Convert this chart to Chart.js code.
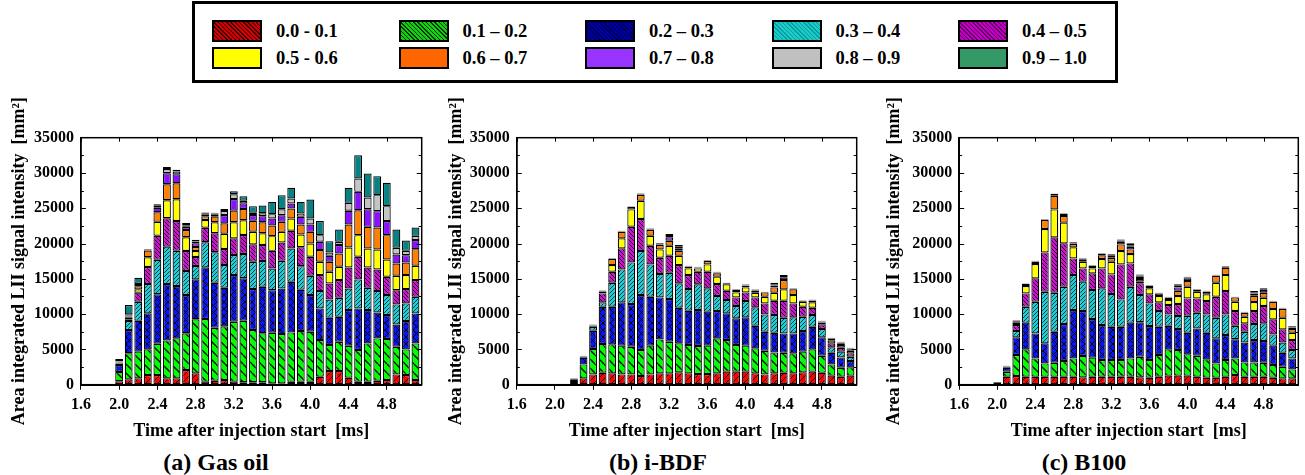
<!DOCTYPE html>
<html>
<head>
<meta charset="utf-8">
<script src="https://cdn.jsdelivr.net/npm/chart.js@4.4.1/dist/chart.umd.min.js"></script>
<style>
  body { margin: 0; width: 1305px; height: 475px; background: #fff; position: relative; overflow: hidden;
         font-family: "Liberation Serif", "DejaVu Serif", serif; font-weight: bold; color: #000; }
  #legend { position: absolute; left: 192px; top: 1px; width: 920px; height: 76px; border: 3px solid #000; }
  .sw { position: absolute; width: 46px; height: 18px; border: 2px solid #000; }
  .lt { position: absolute; font-size: 18.5px; line-height: 22px; white-space: pre; }
  .panel { position: absolute; top: 85px; }
  .cap { position: absolute; top: 449px; width: 300px; text-align: center; font-size: 24px; line-height: 26px; }
</style>
</head>
<body>
<div id="legend"></div>
<div class="panel" style="left:0px"><canvas id="chartA" width="432" height="360"></canvas></div>
<div class="panel" style="left:442px"><canvas id="chartB" width="432" height="360"></canvas></div>
<div class="panel" style="left:868px"><canvas id="chartC" width="432" height="360"></canvas></div>
<div class="cap" style="left:66px">(a) Gas oil</div>
<div class="cap" style="left:508px">(b) i-BDF</div>
<div class="cap" style="left:934px">(c) B100</div>
<script>
// bins and time axis
const binLabels = ['0.0 - 0.1', '0.1 \u2013 0.2', '0.2 \u2013 0.3', '0.3 \u2013 0.4', '0.4 \u2013 0.5',
                   '0.5 - 0.6', '0.6 \u2013 0.7', '0.7 \u2013 0.8', '0.8 \u2013 0.9', '0.9 \u2013 1.0'];
const timeMs = [2.0, 2.1, 2.2, 2.3, 2.4, 2.5, 2.6, 2.7, 2.8, 2.9, 3.0, 3.1, 3.2, 3.3, 3.4, 3.5,
                3.6, 3.7, 3.8, 3.9, 4.0, 4.1, 4.2, 4.3, 4.4, 4.5, 4.6, 4.7, 4.8, 4.9, 5.0, 5.1];
const xTicks = [1.6, 2.0, 2.4, 2.8, 3.2, 3.6, 4.0, 4.4, 4.8];
const yTicks = [0, 5000, 10000, 15000, 20000, 25000, 30000, 35000];

// upper edge of each stacked band (mm2)
// (a) Gas oil
const gasOil01 = [500, 760, 900, 1370, 1370, 900, 900, 2080, 1610, 430, 570, 670, 430, 340, 340, 340,
                  190, 190, 420, 420, 420, 1130, 1940, 1940, 990, 420, 420, 570, 660, 1460, 1370, 660];
const gasOil02 = [1800, 4450, 4680, 5010, 5810, 6280, 6570, 7280, 9270, 9310, 8080, 8270, 8930, 9070, 7750, 7280,
                  7360, 7170, 7410, 7600, 7500, 6320, 5620, 6090, 5520, 4910, 5850, 6560, 6470, 5380, 5000, 5850];
const gasOil03 = [2800, 7750, 9070, 10110, 12810, 14270, 13990, 12710, 14930, 16630, 14450, 13740, 15540, 15080, 13560, 13890,
                  13400, 13640, 14580, 13450, 12700, 10810, 9490, 9630, 10570, 10810, 10570, 10240, 9870, 8540, 9020, 10100];
const gasOil04 = [3000, 9030, 11760, 14270, 17710, 19560, 18990, 16110, 16820, 20180, 18760, 16960, 18380, 18520, 17430, 17530,
                  16470, 17560, 19300, 16800, 15430, 13260, 12080, 12320, 13640, 14920, 13740, 13260, 12700, 11380, 11520, 12460];
const gasOil05 = [3100, 9270, 13040, 16680, 21110, 23580, 23200, 18950, 18090, 22250, 21450, 19230, 20740, 21210, 19890, 19800,
                  18970, 20150, 21810, 19490, 18130, 15530, 14350, 14820, 16610, 18130, 16610, 16330, 15290, 13400, 13550, 14820];
const gasOil06 = [3150, 9470, 13510, 18050, 23100, 26130, 26270, 20890, 18950, 23340, 23010, 21400, 23010, 23300, 21680, 21450,
                  21050, 21660, 23550, 21290, 20010, 17420, 16000, 16710, 19450, 21190, 19300, 19160, 17750, 15430, 15530, 16850];
const gasOil07 = [3200, 9670, 13960, 19000, 24430, 28400, 28540, 21920, 19510, 23860, 23810, 22860, 24660, 24900, 23240, 23010,
                  22560, 23080, 24970, 22700, 21660, 19070, 17420, 18600, 22700, 24730, 22370, 22280, 21190, 17180, 17320, 19210];
const gasOil08 = [3250, 9820, 14110, 19100, 25080, 29960, 29810, 22390, 20040, 24150, 24150, 24050, 26320, 25700, 24050, 23860,
                  23550, 24020, 25680, 23790, 22700, 20250, 18270, 19780, 24640, 27330, 24870, 24590, 23180, 18460, 18360, 20490];
const gasOil09 = [3300, 9970, 14260, 19150, 25360, 30550, 30200, 22600, 20300, 24290, 24250, 24610, 26980, 26070, 24370, 24290,
                  24170, 24870, 26380, 24260, 23550, 21190, 18740, 20250, 25770, 29220, 26530, 26860, 25300, 19400, 18970, 21100];
const gasOil10 = [3650, 11280, 15160, 19230, 25560, 30850, 30450, 22900, 20550, 24400, 24350, 24900, 27400, 26700, 25300, 25400,
                  25900, 26860, 27900, 25900, 26240, 23180, 20340, 22000, 27900, 32520, 29920, 29550, 28600, 22000, 20440, 22280];

// (b) i-BDF
const iBdf01 = [0, 0, 400, 900, 1460, 1700, 1610, 1460, 1460, 1230, 1460, 1610, 1610, 1750, 1610, 1510,
                1500, 1610, 1850, 1850, 1850, 1610, 1460, 1610, 1700, 1610, 1750, 1850, 1700, 1280, 1130, 1280];
const iBdf02 = [0, 0, 700, 2880, 5050, 5760, 5720, 5530, 5380, 4910, 5530, 6420, 6090, 5860, 5620, 5480,
                5530, 6570, 6330, 5620, 5530, 5150, 4820, 4580, 4530, 4440, 4680, 5010, 4110, 2880, 2410, 2460];
const iBdf03 = [0, 0, 800, 3820, 7650, 11050, 11050, 11670, 11430, 12700, 12470, 12370, 12140, 10910, 10480, 10580,
                10350, 10440, 10110, 9400, 9540, 8360, 7510, 7370, 7270, 7270, 7600, 8220, 6710, 4530, 3870, 3350];
const iBdf04 = [0, 0, 850, 3950, 8220, 11670, 14450, 16340, 17330, 18940, 17050, 15680, 15870, 14360, 13550, 14220,
                13650, 12570, 11990, 11150, 11850, 10960, 9960, 9870, 9490, 9540, 9630, 9870, 7890, 5290, 4680, 3960];
const iBdf05 = [0, 0, 850, 4000, 8360, 12940, 16010, 19320, 22390, 23470, 19690, 17990, 18280, 16950, 15540, 16010,
                16010, 14270, 13320, 12370, 13080, 12370, 11520, 11900, 11900, 11520, 11050, 10910, 8550, 5860, 5240, 4440];
const iBdf06 = [0, 0, 850, 4050, 8420, 13220, 16950, 20740, 24840, 26070, 21110, 19170, 19690, 18280, 16480, 16480,
                17050, 15310, 14220, 13080, 13790, 13030, 12470, 13030, 13510, 12700, 11760, 11670, 8830, 6240, 5620, 4820];
const iBdf07 = [0, 0, 850, 4080, 8480, 13330, 17810, 21680, 25220, 26870, 21920, 19790, 20400, 18990, 16720, 16580,
                17520, 15780, 14360, 13410, 14030, 13270, 13080, 13790, 14830, 13510, 11900, 11900, 8930, 6470, 5860, 5010];
const iBdf08 = [0, 0, 850, 4090, 8500, 13360, 17870, 21730, 25260, 26950, 22000, 19870, 20880, 19320, 16770, 16620,
                17570, 15850, 14400, 13460, 14100, 13350, 13120, 14070, 15210, 13560, 11940, 11970, 8980, 6540, 5930, 5090];
const iBdf09 = [0, 0, 850, 4100, 8520, 13380, 17910, 21780, 25290, 27030, 22070, 19950, 21060, 19550, 16810, 16670,
                17620, 15930, 14420, 13510, 14160, 13420, 13150, 14250, 15400, 13600, 11970, 12030, 9020, 6600, 6000, 5160];
const iBdf10 = [0, 0, 900, 4110, 8550, 13410, 17950, 21820, 25320, 27110, 22150, 20030, 21350, 19790, 16860, 16720,
                17670, 16020, 14450, 13560, 14220, 13500, 13180, 14450, 15540, 13650, 12000, 12090, 9070, 6660, 6090, 5240];

// (c) B100
const b10001 = [350, 1130, 1230, 1130, 1130, 1130, 1130, 1130, 1130, 1040, 1130, 1130, 1130, 1130, 1130, 1040,
                990, 1130, 1280, 1280, 1280, 1130, 990, 990, 1130, 1370, 1130, 1130, 1130, 990, 900, 900];
const b10002 = [350, 1840, 4210, 5010, 3730, 3020, 3120, 3350, 3730, 4070, 3830, 3490, 3490, 3490, 3730, 3970,
                3490, 4210, 5010, 4910, 4300, 4110, 3590, 3020, 3490, 3730, 3160, 3160, 3120, 2790, 2550, 2170];
const b10003 = [350, 2410, 6710, 8790, 7270, 5860, 7510, 8600, 10580, 10440, 9310, 8460, 8220, 8220, 8790, 8840,
                8310, 8220, 8360, 7890, 7370, 7980, 7370, 6570, 7040, 6430, 5990, 6330, 6190, 5530, 4530, 3730];
const b10004 = [350, 2550, 7610, 11050, 11760, 13170, 13030, 13890, 15540, 14600, 13410, 13650, 12850, 12090, 13890, 12700,
                11520, 10440, 9960, 9730, 9780, 10200, 9960, 9490, 9960, 8360, 7510, 8600, 8690, 7130, 5990, 4910];
const b10005 = [350, 2600, 8460, 12940, 15070, 18750, 20880, 20030, 17900, 16480, 15780, 16480, 15630, 17050, 17190, 14360,
                12800, 11670, 11290, 11430, 12230, 12230, 11850, 12470, 13270, 10440, 8690, 10440, 11150, 9260, 7840, 6330];
const b10006 = [350, 2620, 8790, 13980, 17100, 22060, 24840, 22960, 19460, 17430, 16480, 17810, 17430, 18940, 18510, 14590,
                13650, 12560, 12000, 12560, 13890, 13180, 12800, 14450, 15540, 11760, 9630, 11710, 12330, 10720, 9490, 7370];
const b10007 = [350, 2640, 8980, 14260, 17430, 23330, 26780, 23900, 19930, 17760, 16810, 18330, 17990, 19880, 19170, 14970,
                13980, 12940, 12330, 13320, 14690, 13410, 13180, 15440, 16580, 12370, 10200, 12610, 13030, 11760, 10720, 7890];
const b10008 = [350, 2660, 9050, 14300, 17480, 23380, 27020, 24180, 20020, 17840, 16870, 18510, 18280, 20260, 19550, 15300,
                14030, 12980, 12380, 13790, 15070, 13460, 13230, 15490, 16680, 12410, 10260, 12940, 13410, 11810, 10780, 8120];
const b10009 = [350, 2670, 9100, 14330, 17520, 23420, 27060, 24230, 20090, 17900, 16910, 18560, 18380, 20420, 19700, 15460,
                14070, 13000, 12420, 14030, 15180, 13510, 13280, 15530, 16750, 12440, 10300, 13100, 13530, 11850, 10840, 8220];
const b10010 = [350, 2690, 9170, 14360, 17570, 23470, 27110, 24280, 20170, 17950, 16950, 18610, 18470, 20590, 20030, 15630,
                14120, 13030, 12470, 14220, 15300, 13560, 13320, 15580, 16810, 12470, 10340, 13270, 13650, 11900, 10910, 8310];

const gasOilTops = [gasOil01, gasOil02, gasOil03, gasOil04, gasOil05, gasOil06, gasOil07, gasOil08, gasOil09, gasOil10];
const iBdfTops = [iBdf01, iBdf02, iBdf03, iBdf04, iBdf05, iBdf06, iBdf07, iBdf08, iBdf09, iBdf10];
const b100Tops = [b10001, b10002, b10003, b10004, b10005, b10006, b10007, b10008, b10009, b10010];

// fills: hatched for the first five bins, plain after that
function hatch(bg, kind, gap, lw, ink) {
  const c = document.createElement('canvas');
  c.width = gap; c.height = gap;
  const g = c.getContext('2d');
  g.fillStyle = bg;
  g.fillRect(0, 0, gap, gap);
  g.strokeStyle = ink || '#000';
  g.lineWidth = lw;
  g.beginPath();
  for (const t of [-gap, 0, gap]) {
    if (kind === '/' || kind === 'x') { g.moveTo(t, gap); g.lineTo(t + gap, 0); }
    if (kind === '\\' || kind === 'x') { g.moveTo(t, 0); g.lineTo(t + gap, gap); }
  }
  g.stroke();
  return g.createPattern(c, 'repeat');
}

const fills = [
  hatch('#ff0000', '/', 6, 1),
  hatch('#00ff00', '\\', 9, 1.3),
  hatch('#0a14f5', 'x', 7, 1),
  hatch('#19d0d8', '/', 4, 1, '#063a40'),
  hatch('#d010d0', '\\', 4, 1, '#200020'),
  '#ffff00', '#ff8000', '#8a10ff', '#c4c4c4', '#078284'
];

const legendSwatch = [
  'repeating-linear-gradient(45deg,#300 0 1px,#d00000 1px 3px)',
  'repeating-linear-gradient(45deg,#030 0 1px,#10d010 1px 3px)',
  'repeating-linear-gradient(45deg,#000050 0 1px,#0000a0 1px 3px)',
  'repeating-linear-gradient(45deg,#00a0a0 0 1px,#20c8c8 1px 3px)',
  'repeating-linear-gradient(45deg,#600060 0 1px,#c000c0 1px 3px)',
  '#ffff00', '#ff6600', '#9933ff', '#c0c0c0', '#339966'
];

// legend (html)
const legend = document.getElementById('legend');
binLabels.forEach((lab, k) => {
  const col = k % 5, row = Math.floor(k / 5);
  const sw = document.createElement('div');
  sw.className = 'sw';
  sw.style.left = (17 + col * 186.5) + 'px';
  sw.style.top = (16 + row * 27) + 'px';
  sw.style.background = legendSwatch[k];
  legend.appendChild(sw);
  const t = document.createElement('div');
  t.className = 'lt';
  t.style.left = (81 + col * 186.5) + 'px';
  t.style.top = (16 + row * 27) + 'px';
  t.textContent = lab;
  legend.appendChild(t);
});

const tickFont = { family: '"Liberation Serif", serif', size: 16, weight: 'bold' };
const titleFont = { family: '"Liberation Serif", serif', size: 18, weight: 'bold' };

// plot frame + inward ticks
const framePlugin = {
  id: 'frame',
  afterDraw(chart) {
    const { ctx, chartArea: a, scales } = chart;
    ctx.save();
    ctx.strokeStyle = '#000';
    ctx.lineWidth = 1.5;
    ctx.strokeRect(a.left, a.top, a.right - a.left, a.bottom - a.top);
    ctx.lineWidth = 1;
    ctx.beginPath();
    for (let v = 2500; v < 35000; v += 2500) {
      const py = Math.round(scales.y.getPixelForValue(v)) + 0.5;
      const len = v % 5000 === 0 ? 5 : 3;
      ctx.moveTo(a.left, py); ctx.lineTo(a.left + len, py);
      ctx.moveTo(a.right, py); ctx.lineTo(a.right - len, py);
    }
    xTicks.forEach(v => {
      const px = Math.round(scales.x.getPixelForValue(v)) + 0.5;
      ctx.moveTo(px, a.top); ctx.lineTo(px, a.top + 4);
    });
    ctx.stroke();
    ctx.restore();
  }
};

function makeChart(id, tops, box) {
  const datasets = tops.map((top, k) => ({
    label: binLabels[k],
    data: timeMs.map((t, i) => ({ x: t, y: [k ? tops[k - 1][i] : 0, top[i]] })),
    backgroundColor: fills[k],
    borderColor: '#000',
    borderWidth: 1.2,
    borderSkipped: false,
    grouped: false,
    barPercentage: 0.82,
    categoryPercentage: 1
  }));
  return new Chart(document.getElementById(id), {
    type: 'bar',
    data: { datasets },
    options: {
      responsive: false,
      animation: false,
      layout: { padding: { left: box.padLeft, right: box.padRight, top: 52.7, bottom: 0 } },
      plugins: { legend: { display: false }, tooltip: { enabled: false } },
      scales: {
        x: {
          type: 'linear',
          min: 1.6,
          max: 5.165,
          offset: false,
          grid: { offset: false, drawOnChartArea: false, drawTicks: true, tickLength: 5, color: '#000' },
          border: { display: true, color: '#000', width: 2 },
          afterBuildTicks: s => { s.ticks = xTicks.map(v => ({ value: v })); },
          ticks: { callback: v => v.toFixed(1), font: tickFont, color: '#000', padding: 6, maxRotation: 0, autoSkip: false },
          title: { display: true, text: 'Time after injection start  [ms]', font: titleFont, color: '#000', padding: { top: 0, bottom: 3 } },
          afterFit: s => { s.height = 60.3; }
        },
        y: {
          min: 0,
          max: 35000,
          grid: { drawOnChartArea: false, drawTicks: false },
          border: { display: true, color: '#000', width: 1.5 },
          afterBuildTicks: s => { s.ticks = yTicks.map(v => ({ value: v })); },
          ticks: { callback: v => String(v), font: tickFont, color: '#000', padding: 7 },
          title: { display: true, text: 'Area integrated LII signal intensity  [mm\u00b2]', font: titleFont, color: '#000', padding: { top: 4, bottom: 2 } },
          afterFit: s => { s.width = box.yAxisW; }
        }
      }
    },
    plugins: [framePlugin]
  });
}

makeChart('chartA', gasOilTops, { padLeft: 5, yAxisW: 75.9, padRight: 10.3 });
makeChart('chartB', iBdfTops, { padLeft: 0, yAxisW: 74.8, padRight: 17.3 });
makeChart('chartC', b100Tops, { padLeft: 12, yAxisW: 79.2, padRight: 1.7 });
</script>
</body>
</html>
